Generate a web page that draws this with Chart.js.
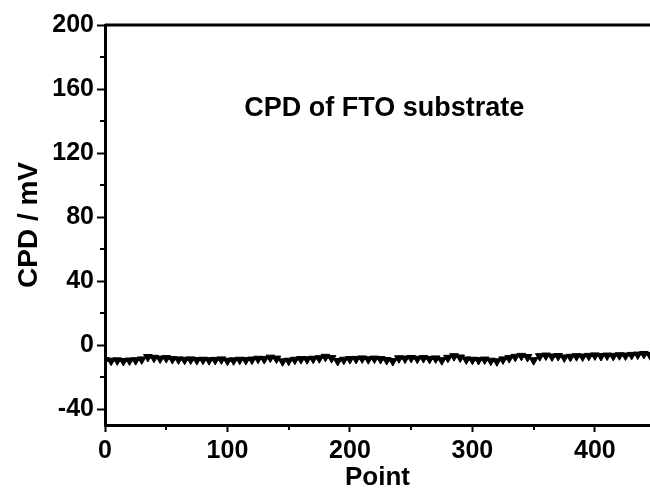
<!DOCTYPE html>
<html>
<head>
<meta charset="utf-8">
<script src="https://cdn.jsdelivr.net/npm/chart.js@4/dist/chart.umd.min.js"></script>
<style>
  html, body { margin: 0; padding: 0; background: #fff; }
  #wrap { width: 650px; height: 488px; }
</style>
</head>
<body>
<div id="wrap"><canvas id="cpd" width="650" height="488"></canvas></div>
<script>
// data, one point every 5 units
const points = [];
for (let p = 0; p <= 445; p += 5) points.push(p);
const cpd = [
  -9.5, -9.8, -9.6, -10, -9.7, -9.5, -9, -7.5, -8, -8.5,
  -8.2, -8.8, -9, -9.2, -9, -9.4, -9.2, -9.5, -9.3, -9,
  -9.8, -9.6, -9.2, -9.4, -9.1, -8.6, -8.8, -7.9, -8.5, -10.2,
  -9.8, -9.2, -8.8, -8.9, -8.6, -8.3, -7.4, -8.2, -10, -9.2,
  -8.8, -8.7, -8.4, -8.9, -8.5, -8.8, -9.4, -10, -8.3, -8.5,
  -8.1, -8.6, -8.2, -8.7, -8.4, -9.5, -8.0, -7.0, -7.8, -9.0,
  -9.2, -9.4, -9.1, -9.8, -10.2, -9.0, -8.2, -7.4, -6.8, -7.5,
  -9.5, -7.0, -6.6, -7.2, -6.9, -7.8, -7.4, -7.0, -7.2, -6.8,
  -6.5, -6.9, -6.6, -6.8, -6.4, -6.6, -6.2, -6.0, -5.6, -6.3
];

const xTicks = [0, 100, 200, 300, 400];
const xMinor = [50, 150, 250, 350];
const yTicks = [-40, 0, 40, 80, 120, 160, 200];
const yMinor = [-20, 20, 60, 100, 140, 180];
const noteText = 'CPD of FTO substrate';
const notePos = { x: 228, y: 148 };

const FONT = '"Liberation Sans", Arial, sans-serif';

const framePlugin = {
  id: 'frame',
  afterDraw(chart) {
    const { ctx, chartArea, scales } = chart;
    const x = scales.x, y = scales.y;
    ctx.save();
    ctx.strokeStyle = '#000';
    // top frame line
    ctx.lineWidth = 3;
    ctx.beginPath();
    ctx.moveTo(chartArea.left, chartArea.top);
    ctx.lineTo(chartArea.right, chartArea.top);
    ctx.stroke();
    // minor ticks
    ctx.lineWidth = 2;
    yMinor.forEach(v => {
      const py = Math.round(y.getPixelForValue(v));
      ctx.beginPath();
      ctx.moveTo(chartArea.left - 5, py);
      ctx.lineTo(chartArea.left, py);
      ctx.stroke();
    });
    xMinor.forEach(v => {
      const px = Math.round(x.getPixelForValue(v));
      ctx.beginPath();
      ctx.moveTo(px, chartArea.bottom);
      ctx.lineTo(px, chartArea.bottom + 5);
      ctx.stroke();
    });
    // label inside the plot
    ctx.fillStyle = '#000';
    ctx.font = 'bold 27px ' + FONT;
    ctx.textAlign = 'center';
    ctx.textBaseline = 'middle';
    ctx.fillText(noteText, x.getPixelForValue(notePos.x), y.getPixelForValue(notePos.y));
    ctx.restore();
  }
};

new Chart(document.getElementById('cpd'), {
  type: 'line',
  data: {
    labels: points,
    datasets: [{
      data: points.map((p, i) => ({ x: p, y: cpd[i] })),
      borderColor: '#000',
      backgroundColor: '#000',
      borderWidth: 2,
      pointStyle: 'triangle',
      rotation: 180,
      pointRadius: 5,
      pointBorderWidth: 1,
      tension: 0,
    }],
  },
  options: {
    responsive: false,
    animation: false,
    devicePixelRatio: 1,
    layout: { autoPadding: false, padding: { top: 25, right: 0, left: 12, bottom: 0 } },
    plugins: { legend: { display: false }, tooltip: { enabled: false } },
    scales: {
      x: {
        type: 'linear',
        min: 0,
        max: 445,
        afterBuildTicks: (s) => { s.ticks = xTicks.map(v => ({ value: v })); },
        afterFit: (s) => { s.height = 63; s.paddingRight = 0; s.paddingLeft = 0; },
        border: { color: '#000', width: 3 },
        grid: { drawOnChartArea: false, tickLength: 7, tickWidth: 2, tickColor: '#000' },
        ticks: { color: '#000', padding: 4, maxRotation: 0, font: { family: FONT, size: 25, weight: 'bold' } },
        title: {
          display: true, text: 'Point', color: '#000',
          padding: { top: 0, bottom: -5 },
          font: { family: FONT, size: 26, weight: 'bold' },
        },
      },
      y: {
        type: 'linear',
        min: -50,
        max: 200,
        afterBuildTicks: (s) => { s.ticks = yTicks.map(v => ({ value: v })); },
        afterFit: (s) => { s.width = 93; },
        border: { color: '#000', width: 3 },
        grid: { drawOnChartArea: false, tickLength: 8, tickWidth: 2, tickColor: '#000' },
        ticks: { color: '#000', padding: 3, font: { family: FONT, size: 25, weight: 'bold' } },
        title: {
          display: true, text: 'CPD / mV', color: '#000',
          padding: { top: 0, bottom: 0 },
          font: { family: FONT, size: 28, weight: 'bold' },
        },
      },
    },
  },
  plugins: [framePlugin],
});
</script>
</body>
</html>
